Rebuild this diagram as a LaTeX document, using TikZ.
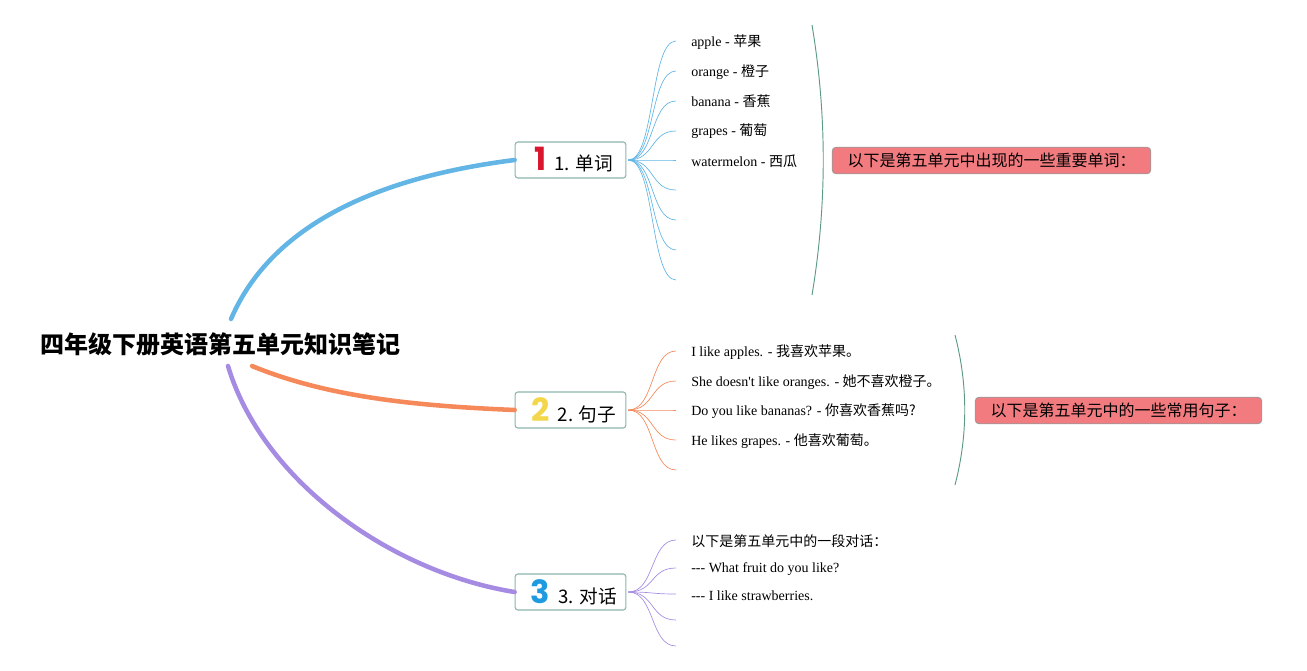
\documentclass[tikz,border=0pt]{standalone}
\usepackage{fontspec}
\setmainfont{Liberation Serif}[Ligatures=TeXOff]
\newfontfamily\cjk{Noto Sans CJK SC}
\newfontfamily\digitfont{Poppins}
\usepackage{xcolor}
\usetikzlibrary{positioning, calc}

\definecolor{wordblue}{HTML}{62B5E5}
\definecolor{sentorange}{HTML}{F5895A}
\definecolor{talkpurple}{HTML}{A68BE2}
\definecolor{boxline}{HTML}{8DB4AC}
\definecolor{bracegreen}{HTML}{5C9A86}
\definecolor{notered}{HTML}{F27B80}
\definecolor{iconred}{HTML}{D9162D}
\definecolor{iconyellow}{HTML}{F4D64A}
\definecolor{iconblue}{HTML}{1E9AE0}

\begin{document}
\begin{tikzpicture}[
    x=0.75pt, y=-0.75pt,
    main branch/.style={line width=3.4pt, line cap=round},
    leaf line/.style={line width=0.5pt},
    topic box/.style={
        draw=boxline, fill=white, line width=0.8pt,
        rounded corners=2pt,
        minimum width=83pt, minimum height=27pt, inner sep=0pt
    },
    leaf text/.style={anchor=west, inner sep=0pt, font=\fontsize{10.5pt}{12pt}\selectfont},
    note box/.style={
        draw=gray!80, fill=notered, line width=0.6pt,
        rounded corners=3pt, minimum height=20pt, inner sep=0pt,
        font=\cjk\fontsize{12pt}{14pt}\selectfont
    },
    brace line/.style={bracegreen, line width=0.7pt}
]
    \useasboundingbox (0,0) rectangle (1307,671);

    % Root
    \node[font=\cjk\bfseries\fontsize{18pt}{20pt}\selectfont] (root) at (220,344) {四年级下册英语第五单元知识笔记};
    \coordinate (root top) at (231,319);
    \coordinate (root right) at (252,366);
    \coordinate (root bottom) at (228,366);

    % --- TOPICS ---
    \node[topic box] (words) at (570.5,160)
        {\hspace{5pt}{\digitfont\bfseries\fontsize{24pt}{24pt}\selectfont\color{iconred}1}\hspace{6pt}{\cjk\fontsize{14pt}{16pt}\selectfont 1. 单词}};
    \node[topic box] (sentences) at (570.5,410)
        {\hspace{5pt}{\digitfont\bfseries\fontsize{24pt}{24pt}\selectfont\color{iconyellow}2}\hspace{6pt}{\cjk\fontsize{14pt}{16pt}\selectfont 2. 句子}};
    \node[topic box] (dialogue) at (570.5,592)
        {\hspace{5pt}{\digitfont\bfseries\fontsize{24pt}{24pt}\selectfont\color{iconblue}3}\hspace{6pt}{\cjk\fontsize{14pt}{16pt}\selectfont 3. 对话}};

    % Main branches
    \draw[main branch, wordblue] (root top) .. controls (280,205) and (420,172) .. (words.west);
    \draw[main branch, sentorange] (root right) .. controls (330,398) and (420,406) .. (sentences.west);
    \draw[main branch, talkpurple] (root bottom) .. controls (262,480) and (390,572) .. (dialogue.west);

    % --- 1. words ---
    \coordinate (words hub) at ($(words.east)+(2,0)$);
    \foreach \y [count=\i] in {41,71,101,131,160,190,220,250,280} {
        \coordinate (w\i) at (676,\y);
        \draw[leaf line, wordblue] (words hub) .. controls (655,160) and (650,\y) .. (w\i);
    }
    \node[leaf text] (w1 text) at (691,42) {apple - {\cjk 苹果}};
    \node[leaf text] (w2 text) at (691,72) {orange - {\cjk 橙子}};
    \node[leaf text] (w3 text) at (691,101.5) {banana - {\cjk 香蕉}};
    \node[leaf text] (w4 text) at (691,131.5) {grapes - {\cjk 葡萄}};
    \node[leaf text] (w5 text) at (691,161) {watermelon - {\cjk 西瓜}};

    \coordinate (brace1 top) at (812,25);
    \coordinate (brace1 bottom) at (812,295);
    \draw[brace line] (brace1 top) .. controls (827,115) and (827,205) .. (brace1 bottom);
    \node[note box, minimum width=239pt] (words note) at (991.5,160.5) {以下是第五单元中出现的一些重要单词：};

    % --- 2. sentences ---
    \coordinate (sent hub) at ($(sentences.east)+(2,0)$);
    \foreach \y [count=\i] in {351,381,410,440,470} {
        \coordinate (s\i) at (676,\y);
        \draw[leaf line, sentorange] (sent hub) .. controls (655,410) and (650,\y) .. (s\i);
    }
    \node[leaf text] (s1 text) at (691,352) {I like apples. - {\cjk 我喜欢苹果。}};
    \node[leaf text] (s2 text) at (691,382) {She doesn't like oranges. - {\cjk 她不喜欢橙子。}};
    \node[leaf text] (s3 text) at (691,411) {Do you like bananas? - {\cjk 你喜欢香蕉吗?}};
    \node[leaf text] (s4 text) at (691,441) {He likes grapes. - {\cjk 他喜欢葡萄。}};

    \coordinate (brace2 top) at (955,335);
    \coordinate (brace2 bottom) at (955,485);
    \draw[brace line] (brace2 top) .. controls (968,385) and (968,435) .. (brace2 bottom);
    \node[note box, minimum width=215pt] (sent note) at (1118.5,410.5) {以下是第五单元中的一些常用句子：};

    % --- 3. dialogue ---
    \coordinate (talk hub) at ($(dialogue.east)+(2,0)$);
    \foreach \y [count=\i] in {540,568,594,620,646} {
        \coordinate (d\i) at (676,\y);
        \draw[leaf line, talkpurple] (talk hub) .. controls (655,592) and (650,\y) .. (d\i);
    }
    \node[leaf text, font=\cjk\fontsize{10.5pt}{12pt}\selectfont] (d1 text) at (691,541) {以下是第五单元中的一段对话：};
    \node[leaf text] (d2 text) at (691,569.5) {--- What fruit do you like?};
    \node[leaf text] (d3 text) at (691,595.5) {--- I like strawberries.};

\end{tikzpicture}
\end{document}
